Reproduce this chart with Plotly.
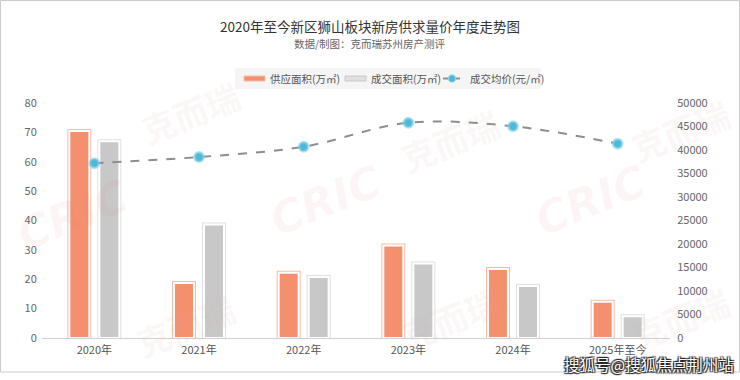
import plotly.graph_objects as go

categories = ["2020年", "2021年", "2022年", "2023年", "2024年", "2025年至今"]
supply_area = [70.5, 18.7, 22.2, 31.5, 23.5, 12.3]   # 供应面积(万㎡)
deal_area = [67.0, 38.6, 20.8, 25.4, 17.7, 7.4]      # 成交面积(万㎡)
avg_price = [37200, 38500, 40700, 45800, 45050, 41350]  # 成交均价(元/㎡)

legend_labels = ["供应面积(万㎡)", "成交面积(万㎡)", "成交均价(元/㎡)"]
left_ticks = list(range(0, 81, 10))
right_ticks = list(range(0, 50001, 5000))

FONT = "Noto Sans CJK SC, Noto Sans, sans-serif"
ORANGE = "#F5906F"
ORANGE_LIGHT = "#F9BBA6"
GRAY = "#C8C8C8"
GRAY_LIGHT = "#E0E0E0"
LINE_GRAY = "#8E8E8E"
DOT = "#4DB9DA"
DOT_HALO = "rgba(125,205,232,0.55)"

W, H = 740, 380
ML, MR, MT, MB = 42, 70, 103, 42
PW = W - ML - MR
PH = H - MT - MB
cat_px = PW / len(categories)
bar_w = 20 / cat_px


def px(x):
    return (x - ML) / PW


def py(y):
    return (H - MB - y) / PH


fig = go.Figure()

# bars: outer light outline, then white inner rim + fill
for vals, fill, light, off in [
    (supply_area, ORANGE, ORANGE_LIGHT, -25 / cat_px),
    (deal_area, GRAY, GRAY_LIGHT, 5 / cat_px),
]:
    fig.add_trace(go.Bar(
        x=categories, y=vals, width=bar_w, offset=off,
        marker=dict(color=fill, line=dict(color=light, width=4)),
        showlegend=False, hoverinfo="skip"))
    fig.add_trace(go.Bar(
        x=categories, y=vals, width=bar_w, offset=off,
        marker=dict(color=fill, line=dict(color="white", width=2)),
        showlegend=False))

fig.add_trace(go.Scatter(
    x=categories, y=avg_price, yaxis="y2", mode="lines+markers",
    line=dict(color=LINE_GRAY, width=2, dash="dash", shape="spline", smoothing=1.0),
    marker=dict(size=9, color=DOT, line=dict(color=DOT_HALO, width=3)),
    showlegend=False))

annotations = []
shapes = []

# watermarks
wm_cric = [(72, 215), (325, 200), (590, 200)]
wm_kr = [(190, 112), (450, 140), (680, 130), (185, 325), (450, 318), (680, 318)]
for (x, y) in wm_cric:
    annotations.append(dict(xref="paper", yref="paper", x=px(x), y=py(y),
                            xanchor="center", yanchor="middle",
                            text="<b><i>CRIC</i></b>", showarrow=False, textangle=-22,
                            font=dict(family="DejaVu Sans, sans-serif", size=44,
                                      color="rgba(236,90,95,0.06)")))
for (x, y) in wm_kr:
    annotations.append(dict(xref="paper", yref="paper", x=px(x), y=py(y),
                            xanchor="center", yanchor="middle",
                            text="<b>克而瑞</b>", showarrow=False, textangle=-22,
                            font=dict(family=FONT, size=34, color="rgba(215,170,170,0.10)")))

# titles
annotations += [
    dict(xref="paper", yref="paper", x=px(370), y=py(26), xanchor="center", yanchor="middle",
         text="2020年至今新区狮山板块新房供求量价年度走势图", showarrow=False,
         font=dict(family=FONT, size=13.5, color="#333333")),
    dict(xref="paper", yref="paper", x=px(370), y=py(43), xanchor="center", yanchor="middle",
         text="数据/制图：克而瑞苏州房产测评", showarrow=False,
         font=dict(family=FONT, size=10.5, color="#666666")),
    dict(xref="paper", yref="paper", x=px(649), y=py(364), xanchor="center", yanchor="middle",
         text="搜狐号@搜狐焦点荆州站", showarrow=False,
         font=dict(family=FONT, size=15.5, color="white",
                   shadow="1px 1px 1px #222, -1px -1px 1px #222, 1px -1px 1px #222, -1px 1px 1px #222")),
]

# manual legend
LY = 78.5
shapes.append(dict(type="rect", xref="paper", yref="paper",
                   x0=px(235), x1=px(541), y0=py(89), y1=py(68),
                   line=dict(width=0), fillcolor="#F5F5F5", layer="below"))
shapes.append(dict(type="rect", xref="paper", yref="paper",
                   x0=px(244), x1=px(265), y0=py(81), y1=py(76),
                   line=dict(color=ORANGE_LIGHT, width=1), fillcolor=ORANGE))
shapes.append(dict(type="rect", xref="paper", yref="paper",
                   x0=px(345), x1=px(366), y0=py(81), y1=py(76),
                   line=dict(color=GRAY, width=1), fillcolor=GRAY_LIGHT))
shapes.append(dict(type="line", xref="paper", yref="paper",
                   x0=px(443), x1=px(448), y0=py(LY), y1=py(LY),
                   line=dict(color=LINE_GRAY, width=2)))
shapes.append(dict(type="line", xref="paper", yref="paper",
                   x0=px(456), x1=px(460), y0=py(LY), y1=py(LY),
                   line=dict(color=LINE_GRAY, width=2)))
shapes.append(dict(type="circle", xref="paper", yref="paper",
                   x0=px(448.5), x1=px(455.5), y0=py(LY + 3.5), y1=py(LY - 3.5),
                   line=dict(color=DOT_HALO, width=1.5), fillcolor=DOT))
for lx, label in zip([268, 369, 468], legend_labels):
    annotations.append(dict(xref="paper", yref="paper", x=px(lx), y=py(LY),
                            xanchor="left", yanchor="middle", text=label, showarrow=False,
                            font=dict(family=FONT, size=10.5, color="#555555")))

# outer frame
shapes.append(dict(type="rect", xref="paper", yref="paper",
                   x0=px(0.5), x1=px(739.5), y0=py(372), y1=py(0.5),
                   line=dict(color="#CCCCCC", width=1), fillcolor="rgba(0,0,0,0)",
                   layer="below"))

fig.update_layout(
    width=W, height=H,
    margin=dict(l=ML, r=MR, t=MT, b=MB, autoexpand=False),
    paper_bgcolor="white", plot_bgcolor="white",
    barmode="overlay", showlegend=False,
    font=dict(family=FONT, size=11, color="#666666"),
    xaxis=dict(type="category", categoryorder="array", categoryarray=categories,
               range=[-0.5, len(categories) - 0.5],
               showline=True, linecolor="#D0D0D0", linewidth=1,
               showgrid=False, zeroline=False,
               ticks="outside", ticklen=2, tickcolor="rgba(0,0,0,0)",
               tickfont=dict(size=11, color="#555555")),
    yaxis=dict(range=[0, 80], tickvals=left_ticks, showgrid=False, zeroline=False,
               showline=False, ticks="outside", ticklen=2, tickcolor="rgba(0,0,0,0)",
               tickfont=dict(size=11, color="#666666")),
    yaxis2=dict(range=[0, 50000], tickvals=right_ticks, tickformat="d",
                overlaying="y", side="right",
                showgrid=False, zeroline=False, showline=False,
                ticks="outside", ticklen=4, tickcolor="rgba(0,0,0,0)",
                tickfont=dict(size=11, color="#666666")),
    annotations=annotations,
    shapes=shapes,
)

fig.write_html("out.html", config={"displayModeBar": False},
               post_script="document.body.style.margin='0';document.body.style.padding='0';")
